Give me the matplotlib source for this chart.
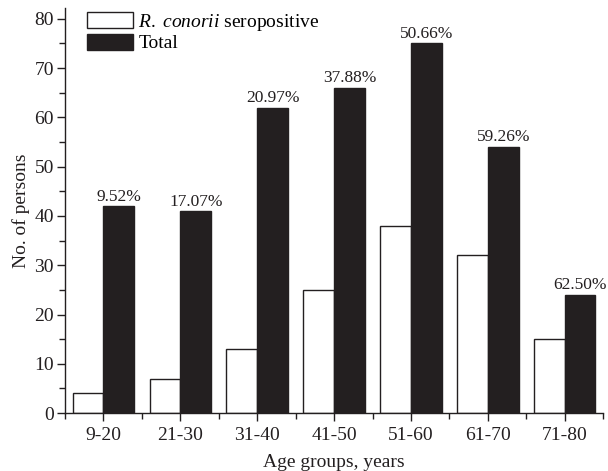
import numpy as np
import matplotlib.pyplot as plt
from matplotlib.ticker import MultipleLocator, FixedLocator

plt.rcParams['font.family'] = ['Liberation Serif', 'DejaVu Serif']
plt.rcParams['mathtext.fontset'] = 'custom'
plt.rcParams['mathtext.rm'] = 'Liberation Serif'
plt.rcParams['mathtext.it'] = 'Liberation Serif:italic'

groups = ["9-20", "21-30", "31-40", "41-50", "51-60", "61-70", "71-80"]
seropositive = [4, 7, 13, 25, 38, 32, 15]
total = [42, 41, 62, 66, 75, 54, 24]
percent_labels = ["9.52%", "17.07%", "20.97%", "37.88%", "50.66%", "59.26%", "62.50%"]

dark = "#231f20"
fs = 14

fig = plt.figure(figsize=(6.08, 4.71), dpi=100)
ax = fig.add_axes([0.107, 0.123, 0.885, 0.860])

x = np.arange(len(groups))
w = 0.4
ax.bar(x - w / 2, seropositive, w, color="white", edgecolor=dark, linewidth=1.0,
       label="$\\it{R.\\ conorii}$ seropositive")
ax.bar(x + w / 2, total, w, color=dark, edgecolor=dark, linewidth=1.0, label="Total")

# percentage of seropositive persons above each total bar
for xi, t, lab in zip(x, total, percent_labels):
    ax.text(xi + w / 2, t + 0.3, lab, ha="center", va="bottom", fontsize=12.5, color=dark)

ax.set_xlim(-0.5, 6.5)
ax.set_ylim(0, 82.2)
ax.set_xticks(x)
ax.set_xticklabels(groups)
ax.xaxis.set_minor_locator(FixedLocator(np.arange(-0.5, 7, 1.0)))
ax.yaxis.set_major_locator(MultipleLocator(10))
ax.yaxis.set_minor_locator(MultipleLocator(5))

for s in ["top", "right"]:
    ax.spines[s].set_visible(False)
for s in ["left", "bottom"]:
    ax.spines[s].set_color(dark)
    ax.spines[s].set_linewidth(1.0)

ax.tick_params(axis="both", which="major", direction="out", length=6, width=1.0,
               colors=dark, labelsize=fs, pad=2)
ax.tick_params(axis="x", which="major", pad=4)
ax.tick_params(axis="both", which="minor", direction="out", length=4, width=1.0, colors=dark)

ax.set_xlabel("Age groups, years", fontsize=fs, color=dark, labelpad=7)
ax.set_ylabel("No. of persons", fontsize=fs, color=dark, labelpad=3)

ax.legend(loc="upper left", bbox_to_anchor=(0.026, 1.01), frameon=False, fontsize=fs,
          handlelength=2.4, handleheight=0.9, handletextpad=0.25, labelspacing=0.05,
          borderaxespad=0)

fig.savefig("out.png", dpi=100)
